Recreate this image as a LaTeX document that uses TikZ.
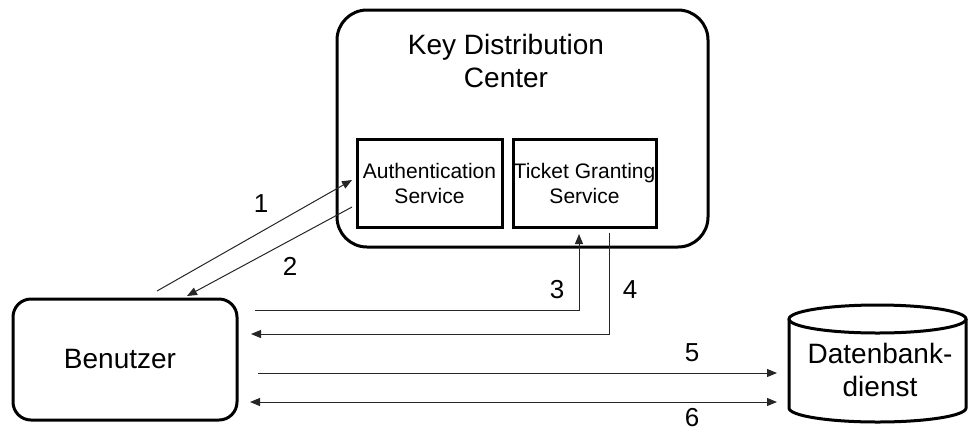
\documentclass[tikz,border=0pt]{standalone}
\usepackage{fontspec}
\setmainfont{Liberation Sans}
\usetikzlibrary{arrows.meta,calc}
\tikzset{
  box/.style={draw, line width=3pt, inner sep=0pt},
  big/.style={font=\fontsize{28}{33}\selectfont, align=center, inner sep=0pt},
  small/.style={font=\fontsize{21}{25}\selectfont, align=center},
  conn/.style={line width=1pt, draw=black!85, -{Triangle[length=10pt,width=8pt]}},
  lbl/.style={font=\fontsize{26}{28}\selectfont, inner sep=0pt},
}
\begin{document}
\begin{tikzpicture}[x=1pt,y=-1pt]
\path[use as bounding box] (0,0) rectangle (968,432);
% Key Distribution Center
\node[box, rounded corners=30pt, minimum width=371pt, minimum height=237pt] (kdc) at (522.5,128.5) {};
\node[big] (kdct) at (506,61) {Key Distribution\\Center};
\node[box, small, minimum width=145pt, minimum height=88pt] (as) at (429.5,183) {Authentication\\Service};
\node[box, small, minimum width=143pt, minimum height=88pt] (tgs) at (584.5,183) {Ticket Granting\\Service};
% Benutzer
\node[box, rounded corners=18pt, minimum width=224pt, minimum height=121pt] (ben) at (125,359.5) {};
\node[big] (bent) at (120,359) {Benutzer};
% Datenbankdienst (cylinder)
\node[minimum width=177pt, minimum height=117pt, inner sep=0pt] (db) at (877.5,363.5) {};
\draw[line width=3pt] (877.5,319) ellipse [x radius=88.5, y radius=14];
\draw[line width=3pt] (789,319) -- (789,408) arc [start angle=180, end angle=0, x radius=88.5, y radius=14] -- (966,319);
\node[big, align=center] (dbt) at (880,370) {Datenbank-\\dienst};
% connector end points
\coordinate (a1s) at (157,291);
\coordinate (a1e) at (352,180);
\coordinate (a2s) at (352,207);
\coordinate (a2e) at (187,296);
\coordinate (a3s) at (255,310);
\coordinate (a3e) at (579,234);
\coordinate (a4s) at (609,233);
\coordinate (a4e) at (251,334);
\coordinate (a5s) at (258,373);
\coordinate (a5e) at (777,373);
\coordinate (a6s) at (250,402);
\coordinate (a6e) at (777,402);
% connectors
\draw[conn] (a1s) -- (a1e);
\draw[conn] (a2s) -- (a2e);
\draw[conn] (a3s) -| (a3e);
\draw[conn] (a4s) |- (a4e);
\draw[conn] (a5s) -- (a5e);
\draw[conn, {Triangle[length=10pt,width=8pt]}-{Triangle[length=10pt,width=8pt]}] (a6s) -- (a6e);
% labels
\node[lbl] (l1) at (261,204) {1};
\node[lbl] (l2) at (290,266) {2};
\node[lbl] (l3) at (557,290) {3};
\node[lbl] (l4) at (630,290) {4};
\node[lbl] (l5) at (692,353) {5};
\node[lbl] (l6) at (692,418) {6};
\end{tikzpicture}
\end{document}
